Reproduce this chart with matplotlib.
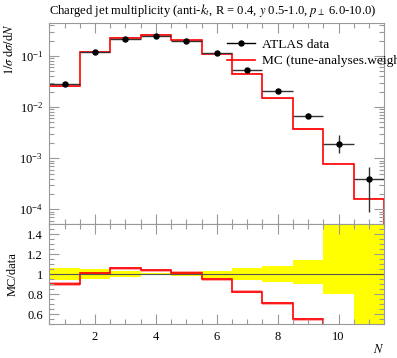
import numpy as np
import matplotlib
matplotlib.use("Agg")
import matplotlib.pyplot as plt
from matplotlib.ticker import MultipleLocator, LogLocator, NullFormatter, FixedLocator

# --- data ---
n_vals = [1, 2, 3, 4, 5, 6, 7, 8, 9, 10, 11]
bin_edges = [0.5, 1.5, 2.5, 3.5, 4.5, 5.5, 6.5, 7.5, 8.5, 9.5, 10.5, 11.5]
data_y = [0.0286, 0.121, 0.215, 0.25, 0.20, 0.116, 0.054, 0.0209, 0.00676, 0.0019, 0.00039]
data_err_up = [0.0017, 0.006, 0.004, 0.0025, 0.004, 0.0035, 0.0032, 0.0017, 0.00095, 0.0010, 0.00027]
data_err_dn = [0.0017, 0.006, 0.004, 0.0025, 0.004, 0.0035, 0.0032, 0.0017, 0.00068, 0.00063, 0.0003]
mc_y = [0.0258, 0.122, 0.228, 0.26, 0.203, 0.110, 0.0446, 0.0148, 0.00372, 0.00078, 0.000162]
mc_rel_err = [0.02, 0.015, 0.015, 0.015, 0.015, 0.015, 0.02, 0.02, 0.025, 0.03, 0.03]
band_lo = [0.94, 0.95, 0.975, 0.99, 0.98, 0.965, 0.94, 0.925, 0.90, 0.80, 0.23]
band_hi = [1.06, 1.05, 1.035, 1.01, 1.02, 1.033, 1.06, 1.083, 1.143, 1.53, 1.69]

title = r"Charged jet multiplicity (anti-$k_t$, R = 0.4, $y$ 0.5-1.0, $p_\perp$ 6.0-10.0)"

plt.rcParams["font.family"] = ["Liberation Serif", "DejaVu Serif"]
plt.rcParams["mathtext.fontset"] = "stix"
plt.rcParams["font.size"] = 9

W, H = 397, 358
fig = plt.figure(figsize=(W / 100, H / 100), dpi=100)
left, right = 49.3 / W, 384.3 / W
ax1 = fig.add_axes([left, 1 - 224.3 / H, right - left, (224.3 - 23.5) / H])
ax2 = fig.add_axes([left, 1 - 324.3 / H, right - left, (324.3 - 224.3) / H], sharex=ax1)

edges = np.array(bin_edges)
x = np.array(n_vals)
dy = np.array(data_y)
mc = np.array(mc_y)
me = np.array(mc_rel_err)

gray = "#999999"
for ax in (ax1, ax2):
    for s in ax.spines.values():
        s.set_color(gray)
        s.set_linewidth(0.8)
    ax.tick_params(which="both", direction="in", top=True, right=True, color=gray)
    ax.tick_params(which="major", length=7.5, width=0.8, pad=4.5)
    ax.tick_params(which="minor", length=3.6, width=0.8)

# main panel
ax1.stairs(mc * (1 + me), edges, baseline=mc * (1 - me), fill=True,
           color="#ff0000", alpha=0.35, lw=0)
ax1.stairs(mc, edges, color="#ff0000", lw=1.2)
ax1.errorbar(x, dy, xerr=0.5, yerr=[data_err_dn, data_err_up], fmt="o", color="black",
             ecolor="#333333", elinewidth=1.0, ms=3.6, capsize=0)
ax1.set_yscale("log")
ax1.set_ylim(5.08e-5, 0.433)
ax1.set_xlim(0.5, 11.5)
ax1.yaxis.set_major_locator(LogLocator(base=10, numticks=10))
ax1.yaxis.set_minor_locator(LogLocator(base=10, subs=np.arange(2, 10), numticks=10))
ax1.yaxis.set_minor_formatter(NullFormatter())
ax1.xaxis.set_major_locator(MultipleLocator(2))
ax1.xaxis.set_minor_locator(MultipleLocator(0.5))
plt.setp(ax1.get_xticklabels(), visible=False)
ax1.set_ylabel(r"$1/\sigma\;\mathrm{d}\sigma/\mathrm{d}N$", loc="top", labelpad=2)
ax1.set_title(title, loc="left", fontsize=9.1, pad=7)
data_handle = plt.Line2D([], [], color="black", lw=1.0, marker="o", ms=3.6)
mc_handle = plt.Line2D([], [], color="#ff0000", lw=1.2)
ax1.legend([data_handle, mc_handle], ["ATLAS data", "MC (tune-analyses.weight"],
           loc="upper left", bbox_to_anchor=(0.53, 0.925), frameon=False,
           handlelength=2.1, handletextpad=0.5, labelspacing=0.3, borderpad=0,
           borderaxespad=0, fontsize=9.6)

# ratio panel
ax2.stairs(np.array(band_hi), edges, baseline=np.array(band_lo), fill=True,
           color="#ffff00", lw=0)
ratio = mc / dy
ax2.stairs(ratio * (1 + me), edges, baseline=ratio * (1 - me), fill=True,
           color="#ff0000", alpha=0.35, lw=0)
ax2.stairs(ratio, edges, color="#ff0000", lw=1.2)
ax2.axhline(1.0, color="#555555", lw=0.8)
ax2.set_ylim(0.5, 1.5)
ax2.yaxis.set_major_locator(FixedLocator([0.6, 0.8, 1.0, 1.2, 1.4]))
ax2.yaxis.set_minor_locator(MultipleLocator(0.05))
ax2.set_yticklabels(["0.6", "0.8", "1", "1.2", "1.4"])
ax2.set_ylabel("MC/data", labelpad=6)
ax2.set_xlabel(r"$N$", loc="right", labelpad=0)

fig.savefig("out.png", dpi=100)
